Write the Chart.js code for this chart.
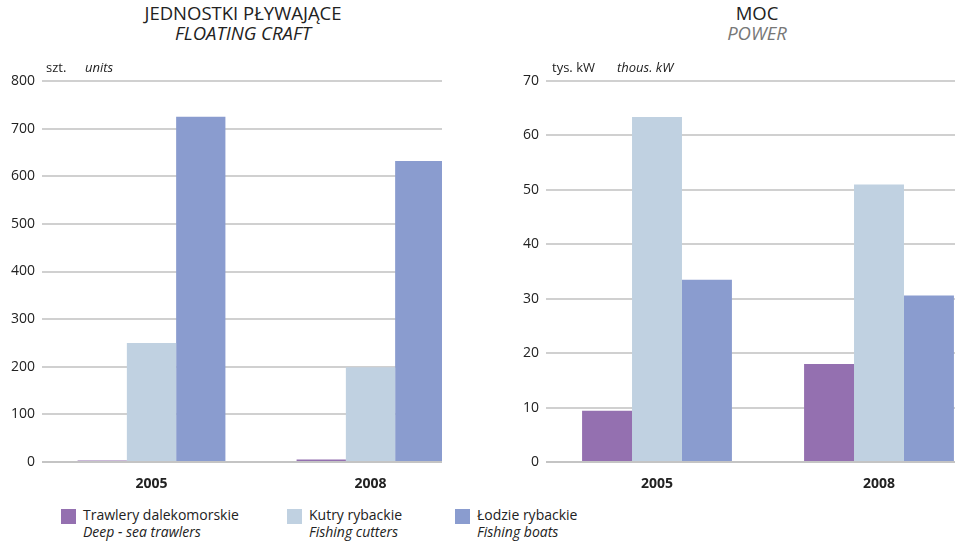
<html lang="pl">
<head>
    <meta charset="UTF-8">
    <title>Jednostki pływające / Moc</title>
    <style>
        body {
            margin: 0;
            width: 955px;
            height: 542px;
            overflow: hidden;
            background: #fff;
            font-family: "Open Sans", Arial, sans-serif;
            color: #222;
            position: relative;
        }
        .box { position: absolute; overflow: hidden; }
        .title {
            position: absolute;
            text-align: center;
            font-size: 18.5px;
            line-height: 20px;
        }
        .title i { display: block; }
        .unit {
            position: absolute;
            font-size: 13px;
            top: 58px;
        }
        .leg {
            position: absolute;
            top: 506px;
            font-size: 14px;
            line-height: 17px;
        }
        .leg span.sw {
            position: absolute;
            left: 0;
            top: 3px;
            width: 15px;
            height: 15px;
        }
        .leg div { margin-left: 22px; white-space: nowrap; }
    </style>
</head>
<body>
    <div class="title" style="left:93px;width:300px;top:3px;">JEDNOSTKI PŁYWAJĄCE<i>FLOATING CRAFT</i></div>
    <div class="title" style="left:657px;width:200px;top:3px;">MOC<i style="color:#777;">POWER</i></div>

    <div class="box" style="left:0;top:0;width:442px;height:495px;">
        <canvas id="unitsChart" width="480" height="492"></canvas>
    </div>
    <div class="box" style="left:476px;top:0;width:479px;height:495px;">
        <canvas id="powerChart" width="514" height="492"></canvas>
    </div>

    <div class="unit" style="left:46px;">szt.</div>
    <div class="unit" style="left:85px;font-style:italic;">units</div>
    <div class="unit" style="left:552px;">tys. kW</div>
    <div class="unit" style="left:617px;font-style:italic;">thous. kW</div>

    <div class="leg" style="left:61px;"><span class="sw" style="background:#9470B0"></span><div>Trawlery dalekomorskie<br><i>Deep - sea trawlers</i></div></div>
    <div class="leg" style="left:287px;"><span class="sw" style="background:#C0D1E1"></span><div>Kutry rybackie<br><i>Fishing cutters</i></div></div>
    <div class="leg" style="left:455px;"><span class="sw" style="background:#8A9CCF"></span><div>Łodzie rybackie<br><i>Fishing boats</i></div></div>

    <script src="https://cdn.jsdelivr.net/npm/chart.js"></script>
    <script>
        // Data
        const categories = ['2005', '2008'];

        const unitsTrawlers = [3, 5];
        const unitsCutters = [250, 199];
        const unitsBoats = [725, 632];

        const powerTrawlers = [9.4, 18.0];
        const powerCutters = [63.4, 51.0];
        const powerBoats = [33.5, 30.6];

        const colTrawlers = '#9470B0';
        const colCutters = '#C0D1E1';
        const colBoats = '#8A9CCF';

        function makeChart(id, series, maxVal, step, axisWidth) {
            const ctx = document.getElementById(id).getContext('2d');
            return new Chart(ctx, {
                type: 'bar',
                data: {
                    labels: categories,
                    datasets: [
                        { label: 'Trawlery dalekomorskie', data: series[0], backgroundColor: colTrawlers },
                        { label: 'Kutry rybackie', data: series[1], backgroundColor: colCutters },
                        { label: 'Łodzie rybackie', data: series[2], backgroundColor: colBoats }
                    ]
                },
                options: {
                    responsive: false,
                    animation: false,
                    devicePixelRatio: 1,
                    layout: { padding: { top: 81, bottom: 0, left: 0, right: 0 } },
                    datasets: {
                        bar: { categoryPercentage: 0.675, barPercentage: 1.0 }
                    },
                    plugins: {
                        legend: { display: false },
                        tooltip: { enabled: false }
                    },
                    scales: {
                        x: {
                            grid: { display: false },
                            border: { display: false },
                            ticks: {
                                padding: 6,
                                color: '#222',
                                font: { family: 'Open Sans', size: 14, weight: 'bold' }
                            },
                            afterFit(scale) { scale.height = 30; }
                        },
                        y: {
                            min: 0,
                            max: maxVal,
                            border: { display: false },
                            grid: {
                                drawTicks: false,
                                lineWidth: 2,
                                color: ctx2 => ctx2.tick && ctx2.tick.value === 0 ? '#c4c4c4' : '#d0d0d0'
                            },
                            ticks: {
                                stepSize: step,
                                padding: 7,
                                color: '#222',
                                font: { family: 'Open Sans', size: 14 }
                            },
                            afterFit(scale) { scale.width = axisWidth; }
                        }
                    }
                }
            });
        }

        makeChart('unitsChart', [unitsTrawlers, unitsCutters, unitsBoats], 800, 100, 42);
        makeChart('powerChart', [powerTrawlers, powerCutters, powerBoats], 70, 10, 70);
    </script>
</body>
</html>
